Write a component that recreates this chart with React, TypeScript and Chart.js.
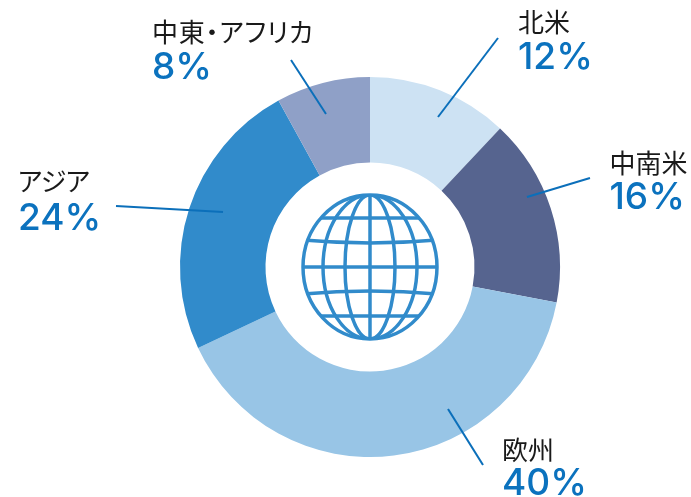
import React, { useEffect, useRef } from "react";
import { Chart, registerables } from "chart.js";

Chart.register(...registerables);

const regions = ["北米", "中南米", "欧州", "アジア", "中東・アフリカ"];
const shares = [12, 16, 40, 24, 8];
const sliceColors = ["#cde2f3", "#56648f", "#98c5e6", "#318bcb", "#8fa0c7"];

const labelAnchors = [
  [518, 31, 70],
  [609.5, 172, 210],
  [502, 459, 496],
  [18, 190, 231],
  [152, 41, 80],
];
const nameTracking = [0, 0, 0, -0.5, 0.8];
const leaderLines = [
  [498, 38, 438, 117],
  [590, 178, 527, 197],
  [448, 409, 483, 465],
  [116, 206, 223, 212],
  [291, 60, 326, 114],
];

const calloutPlugin = {
  id: "callouts",
  afterDatasetsDraw(chart: any) {
    const ctx = chart.ctx as CanvasRenderingContext2D;
    ctx.save();
    ctx.strokeStyle = "#0b6fba";
    ctx.lineWidth = 2;
    leaderLines.forEach(([x1, y1, x2, y2]) => {
      ctx.beginPath();
      ctx.moveTo(x1, y1);
      ctx.lineTo(x2, y2);
      ctx.stroke();
    });
    ctx.restore();
  },
};

const globePlugin = {
  id: "globe",
  afterDatasetsDraw(chart: any) {
    const ctx = chart.ctx as CanvasRenderingContext2D;
    const arc = chart.getDatasetMeta(0).data[0];
    const cx = arc.x;
    const cy = arc.y;
    const rx = 67;
    const ry = 72;
    ctx.save();
    ctx.strokeStyle = "#318bcb";
    ctx.lineWidth = 3.5;
    ctx.beginPath();
    ctx.ellipse(cx, cy, rx, ry, 0, 0, Math.PI * 2);
    ctx.stroke();
    ctx.beginPath();
    ctx.ellipse(cx, cy, rx, ry, 0, 0, Math.PI * 2);
    ctx.clip();
    [47, 25].forEach((m) => {
      ctx.beginPath();
      ctx.ellipse(cx, cy, m, ry, 0, 0, Math.PI * 2);
      ctx.stroke();
    });
    ctx.beginPath();
    ctx.moveTo(cx, cy - ry);
    ctx.lineTo(cx, cy + ry);
    ctx.stroke();
    [-49, 0, 49].forEach((dy) => {
      ctx.beginPath();
      ctx.moveTo(cx - rx, cy + dy);
      ctx.lineTo(cx + rx, cy + dy);
      ctx.stroke();
    });
    [[-27, -24], [27, 24]].forEach(([edge, mid]) => {
      ctx.beginPath();
      ctx.moveTo(cx - rx, cy + edge);
      ctx.quadraticCurveTo(cx, cy + 2 * mid - edge, cx + rx, cy + edge);
      ctx.stroke();
    });
    ctx.restore();
  },
};

const textBase: React.CSSProperties = {
  position: "absolute",
  whiteSpace: "nowrap",
  lineHeight: "40px",
  height: 40,
};

export default function App() {
  const ref = useRef<HTMLCanvasElement>(null);
  useEffect(() => {
    const chart = new Chart(ref.current!, {
      type: "doughnut",
      data: {
        labels: regions,
        datasets: [{ data: shares, backgroundColor: sliceColors, borderWidth: 0 }],
      },
      options: {
        animation: false,
        responsive: false,
        cutout: "55%",
        layout: { padding: { left: 180, right: 131, top: 77, bottom: 40 } },
        plugins: { legend: { display: false }, tooltip: { enabled: false } },
      },
      plugins: [calloutPlugin, globePlugin],
    } as any);
    return () => chart.destroy();
  }, []);
  return (
    <div style={{ position: "absolute", left: 0, top: 0, width: 691, height: 497, overflow: "hidden" }}>
      <canvas ref={ref} width={691} height={497} style={{ position: "absolute", left: 0, top: 0, width: 691, height: 497 }} />
      {regions.map((name, i) => {
        const [x, yName, yPct] = labelAnchors[i];
        return (
          <React.Fragment key={name}>
            <span
              style={{
                ...textBase,
                left: x,
                top: yName - 30,
                fontFamily: '"Noto Sans CJK JP"',
                fontSize: 26,
                color: "#1a1a1a",
                fontFeatureSettings: '"palt"',
                letterSpacing: nameTracking[i],
              }}
            >
              {name}
            </span>
            <span
              style={{
                ...textBase,
                left: x,
                top: yPct - 34,
                fontFamily: "Inter",
                fontWeight: 500,
                fontSize: 37,
                letterSpacing: 0,
                color: "#0b72be",
              }}
            >
              {`${shares[i]}%`}
            </span>
          </React.Fragment>
        );
      })}
    </div>
  );
}
